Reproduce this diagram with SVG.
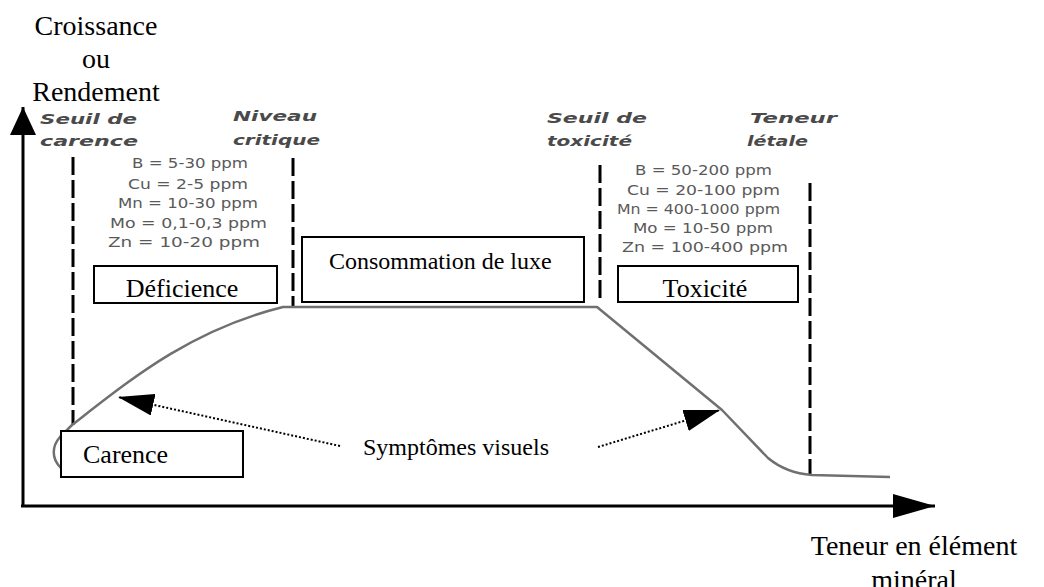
<svg xmlns="http://www.w3.org/2000/svg" width="1044" height="587" viewBox="0 0 1044 587">
<style>
.serif{font-family:"Liberation Serif","Times New Roman",serif;fill:#000}
.lab{font-family:"DejaVu Sans",Verdana,sans-serif;font-style:italic;font-weight:bold;font-size:14px;fill:#4a4a4a}
.ppm{font-family:"DejaVu Sans",Verdana,sans-serif;font-size:14px;fill:#5a5a5a}
.box{fill:#fff;stroke:#000;stroke-width:2}
.dash{stroke:#000;stroke-width:3;stroke-dasharray:18 5;fill:none}
.dot{stroke:#000;stroke-width:2;stroke-dasharray:2 2;fill:none}
.axis{stroke:#000;stroke-width:3;fill:none}
.curve{stroke:#707070;stroke-width:2.5;fill:none;stroke-linejoin:round}
</style>
<defs>
<marker id="ah" markerUnits="userSpaceOnUse" viewBox="0 0 36 22" refX="36" refY="11" markerWidth="36" markerHeight="22" orient="auto">
<path d="M0,0 L36,11 L0,22 z" fill="#000"/>
</marker>
<marker id="axh" markerUnits="userSpaceOnUse" viewBox="0 0 42 24" refX="42" refY="12" markerWidth="42" markerHeight="24" orient="auto">
<path d="M0,0 L42,12 L0,24 z" fill="#000"/>
</marker>
<marker id="ayh" markerUnits="userSpaceOnUse" viewBox="0 0 28 26" refX="28" refY="13" markerWidth="28" markerHeight="26" orient="auto">
<path d="M0,0 L28,13 L0,26 z" fill="#000"/>
</marker>
</defs>
<rect width="1044" height="587" fill="#fff"/>

<g id="axes">
<line class="axis" x1="23" y1="506" x2="23" y2="107" marker-end="url(#ayh)"/>
<line class="axis" x1="21" y1="506" x2="935" y2="506" marker-end="url(#axh)"/>
</g>

<g id="axis-labels">
<text class="serif" font-size="28" text-anchor="middle" x="96" y="35">Croissance</text>
<text class="serif" font-size="28" text-anchor="middle" x="96" y="68">ou</text>
<text class="serif" font-size="28" text-anchor="middle" x="96" y="101">Rendement</text>
<text class="serif" font-size="28" text-anchor="middle" x="914" y="555">Teneur en élément</text>
<text class="serif" font-size="28" text-anchor="middle" x="914" y="589">minéral</text>
</g>

<g id="thresholds">
<line class="dash" x1="73" y1="157" x2="73" y2="425"/>
<line class="dash" x1="293" y1="158" x2="293" y2="306"/>
<line class="dash" x1="600" y1="165" x2="600" y2="302"/>
<line class="dash" x1="810" y1="183" x2="810" y2="474"/>
</g>

<g id="threshold-labels">
<text class="lab" x="40" y="124" textLength="97" lengthAdjust="spacingAndGlyphs">Seuil de</text>
<text class="lab" x="40" y="146" textLength="98" lengthAdjust="spacingAndGlyphs">carence</text>
<text class="lab" x="233" y="121" textLength="84" lengthAdjust="spacingAndGlyphs">Niveau</text>
<text class="lab" x="233" y="145" textLength="87" lengthAdjust="spacingAndGlyphs">critique</text>
<text class="lab" x="547" y="123" textLength="100" lengthAdjust="spacingAndGlyphs">Seuil de</text>
<text class="lab" x="547" y="146" textLength="85" lengthAdjust="spacingAndGlyphs">toxicité</text>
<text class="lab" x="750" y="123" textLength="87" lengthAdjust="spacingAndGlyphs">Teneur</text>
<text class="lab" x="747" y="146" textLength="61" lengthAdjust="spacingAndGlyphs">létale</text>
</g>

<g id="ppm-deficience">
<text class="ppm" x="132" y="168" textLength="116" lengthAdjust="spacingAndGlyphs">B = 5-30 ppm</text>
<text class="ppm" x="128" y="189" textLength="120" lengthAdjust="spacingAndGlyphs">Cu = 2-5 ppm</text>
<text class="ppm" x="118" y="208" textLength="140" lengthAdjust="spacingAndGlyphs">Mn = 10-30 ppm</text>
<text class="ppm" x="110" y="228" textLength="157" lengthAdjust="spacingAndGlyphs">Mo = 0,1-0,3 ppm</text>
<text class="ppm" x="108" y="247" textLength="152" lengthAdjust="spacingAndGlyphs">Zn = 10-20 ppm</text>
</g>

<g id="ppm-toxicite">
<text class="ppm" x="635" y="175" textLength="137" lengthAdjust="spacingAndGlyphs">B = 50-200 ppm</text>
<text class="ppm" x="627" y="195" textLength="153" lengthAdjust="spacingAndGlyphs">Cu = 20-100 ppm</text>
<text class="ppm" x="617" y="214" textLength="163" lengthAdjust="spacingAndGlyphs">Mn = 400-1000 ppm</text>
<text class="ppm" x="633" y="233" textLength="140" lengthAdjust="spacingAndGlyphs">Mo = 10-50 ppm</text>
<text class="ppm" x="622" y="252" textLength="166" lengthAdjust="spacingAndGlyphs">Zn = 100-400 ppm</text>
</g>

<g id="curve">
<path class="curve" d="M61,468 C51,458 52,446 60,437 L72,425 C130,380 190,330 283,307 L597,307 L722,410 L768,458 Q786,473 812,475 L890,477"/>
</g>

<g id="connectors">
<line class="dot" x1="340" y1="446" x2="118" y2="397" marker-end="url(#ah)"/>
<line class="dot" x1="598" y1="447" x2="720" y2="410" marker-end="url(#ah)"/>
</g>

<g id="node-deficience">
<rect class="box" x="94" y="266" width="183" height="37"/>
<text class="serif" font-size="26" text-anchor="middle" x="182" y="297">Déficience</text>
</g>

<g id="node-consommation">
<rect class="box" x="302" y="237" width="282" height="65"/>
<text class="serif" font-size="24" x="329" y="269">Consommation de luxe</text>
</g>

<g id="node-toxicite">
<rect class="box" x="618" y="266" width="180" height="36"/>
<text class="serif" font-size="26" text-anchor="middle" x="705" y="297">Toxicité</text>
</g>

<g id="node-carence">
<rect class="box" x="61" y="431" width="182" height="46"/>
<text class="serif" font-size="26" x="83" y="463">Carence</text>
</g>

<g id="node-symptomes">
<text class="serif" font-size="24" x="363" y="455">Symptômes visuels</text>
</g>
</svg>
